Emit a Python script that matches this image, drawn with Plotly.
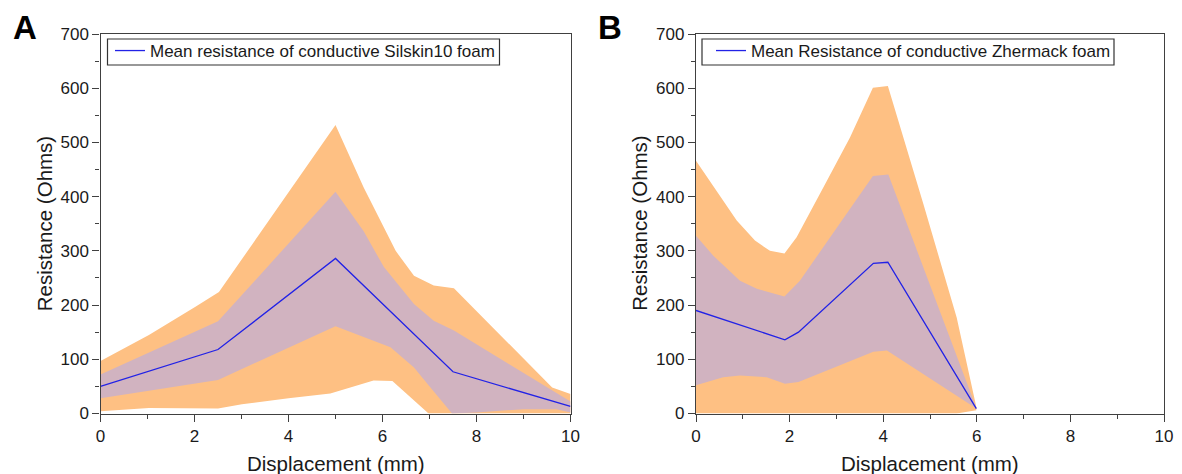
import plotly.graph_objects as go

# ---------------- Panel A: Silskin10 foam ----------------
A_mean_x = [0, 2.5, 5, 7.5, 10]
A_mean_y = [50, 118, 286, 77, 13]

A_outer_up_x = [0, 1.03, 2.02, 2.52, 5.0, 5.6, 6.03, 6.28, 6.67, 7.09, 7.52, 9.61, 10]
A_outer_up_y = [97, 145, 197, 224, 532, 417, 343, 300, 254, 236, 231, 48, 36]
A_outer_lo_x = [0, 1.03, 2.5, 3.01, 4.0, 4.89, 5.0, 5.81, 6.21, 6.6, 6.98, 10]
A_outer_lo_y = [4, 10, 9, 17, 28, 37, 40, 61, 60, 30, 0, 0]

A_inner_up_x = [0, 2.5, 5.0, 5.6, 6.03, 6.67, 7.09, 7.52, 10]
A_inner_up_y = [72, 170, 409, 336, 270, 202, 171, 153, 22]
A_inner_lo_x = [0, 2.5, 5.0, 6.17, 6.67, 7.02, 7.48, 8.0, 9.0, 9.7, 10]
A_inner_lo_y = [28, 62, 161, 122, 85, 48, 0, 2, 8, 8, 2]

# ---------------- Panel B: Zhermack foam ----------------
B_mean_x = [0, 1.9, 2.19, 3.79, 4.1, 5.99]
B_mean_y = [190, 136, 150, 277, 279, 9]

B_outer_up_x = [0, 0.37, 0.87, 1.26, 1.58, 1.89, 2.15, 2.72, 3.29, 3.78, 4.1, 4.86, 5.57, 5.99]
B_outer_up_y = [466, 420, 356, 319, 300, 295, 325, 417, 509, 601, 604, 386, 177, 12]
B_outer_lo_x = [0, 5.57, 5.99]
B_outer_lo_y = [0, 0, 6]

B_inner_up_x = [0, 0.37, 0.94, 1.3, 1.89, 2.22, 3.78, 4.11, 5.99]
B_inner_up_y = [328, 291, 245, 230, 216, 245, 438, 441, 10]
B_inner_lo_x = [0, 0.58, 0.94, 1.51, 1.9, 2.19, 3.79, 4.08, 5.99]
B_inner_lo_y = [52, 67, 70, 67, 55, 58, 114, 116, 9]

legend_A = "Mean resistance of conductive Silskin10 foam"
legend_B = "Mean Resistance of conductive Zhermack foam"
x_title = "Displacement (mm)"
y_title = "Resistance (Ohms)"
panel_labels = ["A", "B"]

ORANGE = "#FEC083"
PURPLE = "#D1B3C0"
BLUE = "#2222E6"
FONT = "Liberation Sans, Arial, sans-serif"
TXT = "#1a1a1a"
AX = "#404040"

# The page body has an 8px margin; lay out in screen pixels and shift.
OFF = 8
SW, SH = 1182, 474
W, H = SW - OFF, SH - OFF


def px2x(sx):
    return (sx - OFF) / W


def py2y(sy):
    return (H - (sy - OFF)) / H


def band(ux, uy, lx, ly):
    return list(ux) + list(lx)[::-1], list(uy) + list(ly)[::-1]


fig = go.Figure()

panels = [
    ("x", "y", A_outer_up_x, A_outer_up_y, A_outer_lo_x, A_outer_lo_y,
     A_inner_up_x, A_inner_up_y, A_inner_lo_x, A_inner_lo_y, A_mean_x, A_mean_y, legend_A, "legend"),
    ("x2", "y2", B_outer_up_x, B_outer_up_y, B_outer_lo_x, B_outer_lo_y,
     B_inner_up_x, B_inner_up_y, B_inner_lo_x, B_inner_lo_y, B_mean_x, B_mean_y, legend_B, "legend2"),
]

for (xa, ya, oux, ouy, olx, oly, iux, iuy, ilx, ily, mx, my, name, leg) in panels:
    px, py = band(oux, ouy, olx, oly)
    fig.add_trace(go.Scatter(x=px, y=py, xaxis=xa, yaxis=ya, fill="toself",
                             fillcolor=ORANGE, line=dict(width=0), mode="lines",
                             showlegend=False, hoverinfo="skip"))
    px, py = band(iux, iuy, ilx, ily)
    fig.add_trace(go.Scatter(x=px, y=py, xaxis=xa, yaxis=ya, fill="toself",
                             fillcolor=PURPLE, line=dict(width=0), mode="lines",
                             showlegend=False, hoverinfo="skip"))
    fig.add_trace(go.Scatter(x=mx, y=my, xaxis=xa, yaxis=ya, mode="lines",
                             line=dict(color=BLUE, width=1.3), name=name,
                             legend=leg, showlegend=True))

# plot-area geometry (screen pixels)
yb, yt = 413.5, 34.0
A_l, A_r = 100.5, 570.5
B_l, B_r = 696.0, 1164.0

common_x = dict(range=[0, 10], tickmode="linear", tick0=0, dtick=2,
                showline=True, linecolor=AX, linewidth=1.3, mirror=True,
                ticks="outside", ticklen=7, tickwidth=1.2, tickcolor=AX,
                minor=dict(ticks="outside", ticklen=4, tickwidth=1.1, tickcolor=AX, dtick=1, showgrid=False),
                showgrid=False, zeroline=False, automargin=False,
                tickfont=dict(family=FONT, size=17, color=TXT), fixedrange=True)
common_y = dict(range=[0, 700], tickmode="linear", tick0=0, dtick=100,
                showline=True, linecolor=AX, linewidth=1.3, mirror=True,
                ticks="outside", ticklen=7, tickwidth=1.2, tickcolor=AX,
                minor=dict(ticks="outside", ticklen=4, tickwidth=1.1, tickcolor=AX, dtick=50, showgrid=False),
                showgrid=False, zeroline=False, automargin=False,
                tickfont=dict(family=FONT, size=17, color=TXT), fixedrange=True)

leg_common = dict(xanchor="left", yanchor="top", borderwidth=0,
                  bgcolor="rgba(0,0,0,0)", font=dict(family=FONT, size=17, color=TXT))

fig.update_layout(
    width=W, height=H,
    margin=dict(l=0, r=0, t=0, b=0, pad=0, autoexpand=False),
    paper_bgcolor="white", plot_bgcolor="white",
    xaxis=dict(domain=[px2x(A_l), px2x(A_r)], anchor="y", **common_x),
    yaxis=dict(domain=[py2y(yb), py2y(yt)], anchor="x", **common_y),
    xaxis2=dict(domain=[px2x(B_l), px2x(B_r)], anchor="y2", **common_x),
    yaxis2=dict(domain=[py2y(yb), py2y(yt)], anchor="x2", **common_y),
    legend=dict(x=px2x(110), y=py2y(33), **leg_common),
    legend2=dict(x=px2x(711), y=py2y(33), **leg_common),
    showlegend=True,
)

# legend frames
shapes = []
for (x0, x1) in [(107.5, 499.5), (702, 1114)]:
    shapes.append(dict(type="rect", xref="paper", yref="paper",
                       x0=px2x(x0), x1=px2x(x1), y0=py2y(65), y1=py2y(39),
                       line=dict(color="#333333", width=1.2), fillcolor="white", layer="above"))
fig.update_layout(shapes=shapes)

annotations = []
for (l, r, lab, lx) in [(A_l, A_r, panel_labels[0], 24.5), (B_l, B_r, panel_labels[1], 610)]:
    annotations.append(dict(text=x_title, x=px2x((l + r) / 2), y=py2y(463), xref="paper", yref="paper",
                            xanchor="center", yanchor="middle", showarrow=False,
                            font=dict(family=FONT, size=20.5, color=TXT)))
    annotations.append(dict(text=y_title, x=px2x(l - 56), y=py2y((yb + yt) / 2), xref="paper", yref="paper",
                            xanchor="center", yanchor="middle", showarrow=False, textangle=-90,
                            font=dict(family=FONT, size=20.5, color=TXT)))
    annotations.append(dict(text="<b>%s</b>" % lab, x=px2x(lx), y=1.0, xref="paper", yref="paper",
                            xanchor="center", yanchor="top", showarrow=False, borderpad=0,
                            font=dict(family=FONT, size=33, color="black")))
fig.update_layout(annotations=annotations)

fig.write_html("out.html")
